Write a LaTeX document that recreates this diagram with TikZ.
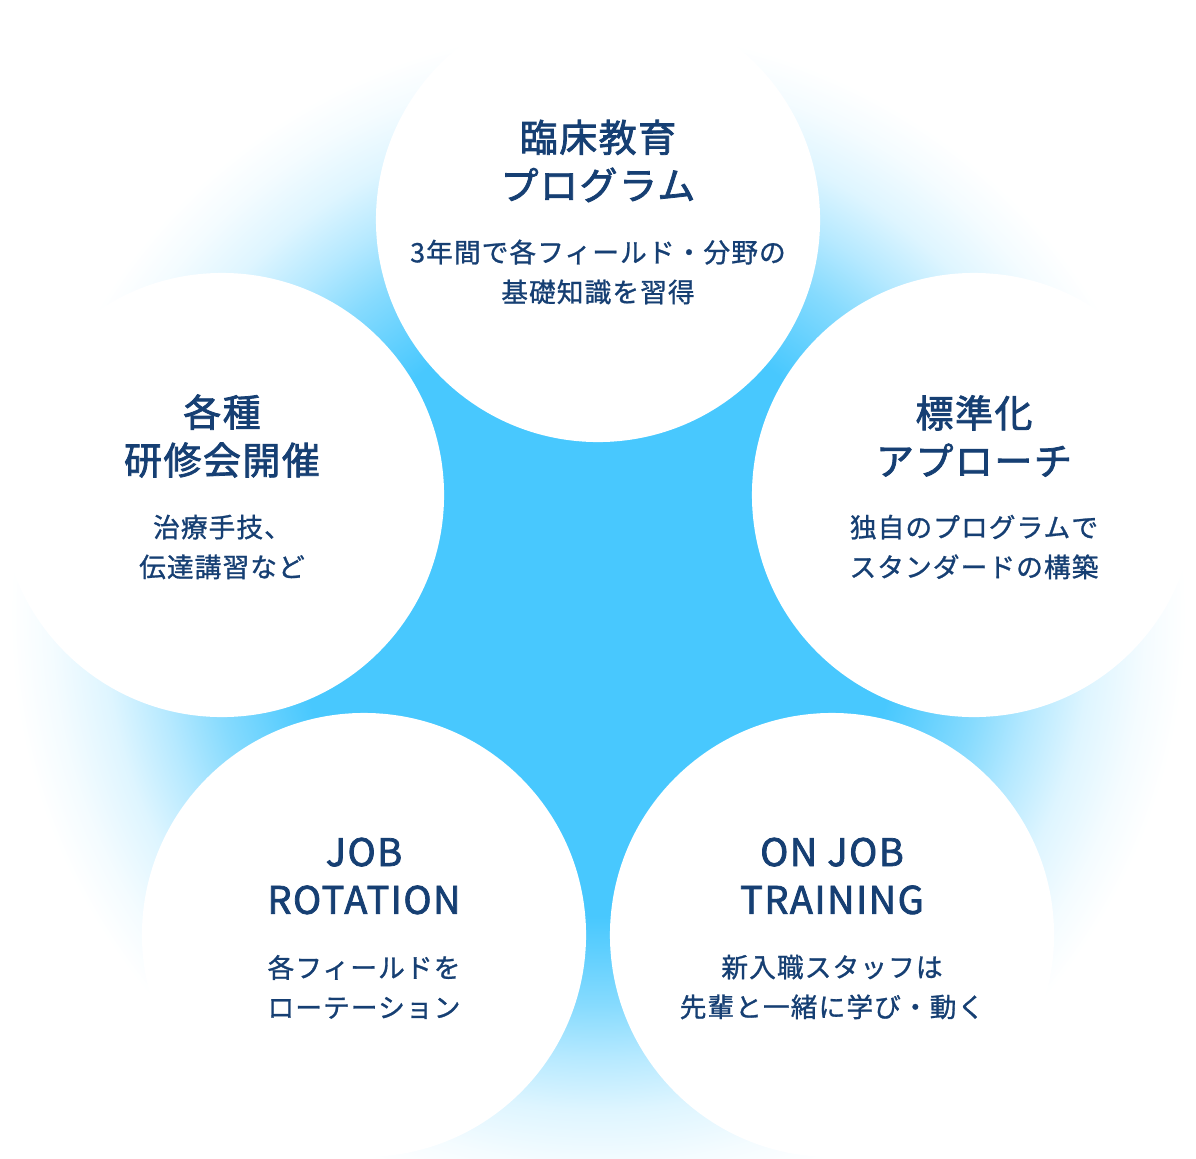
\documentclass[tikz,border=0pt]{standalone}
\usepackage{fontspec}
\setmainfont{Noto Sans CJK JP}
\newfontfamily\ttlfont{Noto Sans CJK JP}[FakeBold=2,LetterSpace=4]
\newfontfamily\subfont{Noto Sans CJK JP}[FakeBold=1,LetterSpace=4]
\definecolor{SKY}{HTML}{48C8FE}
\definecolor{NAVY}{HTML}{163F73}
\pgfdeclareradialshading{glow}{\pgfpointorigin}{color(0bp)=(SKY); color(12.5bp)=(SKY); color(14bp)=(SKY!87!white); color(16.2bp)=(SKY!66!white); color(18.4bp)=(SKY!40!white); color(20.6bp)=(SKY!18!white); color(22.8bp)=(SKY!6!white); color(24.5bp)=(white); color(50bp)=(white)}
\begin{document}
\begin{tikzpicture}[x=0.025cm,y=-0.025cm]
\tikzset{bubble/.style={circle,fill=white,inner sep=0pt,minimum size=11.1cm},
 ttl/.style={NAVY,align=center,font=\fontsize{27}{34}\ttlfont},
 sub/.style={NAVY,align=center,font=\fontsize{19}{28.3}\subfont}}
\useasboundingbox (0,0) rectangle (1196,1158);
\clip (0,0) rectangle (1196,1158);
% glow behind the five circles
\shade[shading=glow] (598,616) circle (600);
\node[bubble] (prog) at (598,220) {};
\node[bubble] (kenshu) at (222,495) {};
\node[bubble] (hyojun) at (974,495) {};
\node[bubble] (rot) at (364,935) {};
\node[bubble] (ojt) at (832,935) {};
% texts
\node[ttl] (progT) at (598,161) {臨床教育\\プログラム};
\node[sub] (progS) at (598,272) {3年間で各フィールド・分野の\\基礎知識を習得};
\node[ttl] (kenshuT) at (222,436) {各種\\研修会開催};
\node[sub] (kenshuS) at (222,547) {治療手技、\\伝達講習など};
\node[ttl] (hyojunT) at (974,436) {標準化\\アプローチ};
\node[sub] (hyojunS) at (974,547) {独自のプログラムで\\スタンダードの構築};
\node[ttl] (rotT) at (364,876) {JOB\\ROTATION};
\node[sub] (rotS) at (364,987) {各フィールドを\\ローテーション};
\node[ttl] (ojtT) at (832,876) {ON JOB\\TRAINING};
\node[sub] (ojtS) at (832,987) {新入職スタッフは\\先輩と一緒に学び・動く};
\end{tikzpicture}
\end{document}
